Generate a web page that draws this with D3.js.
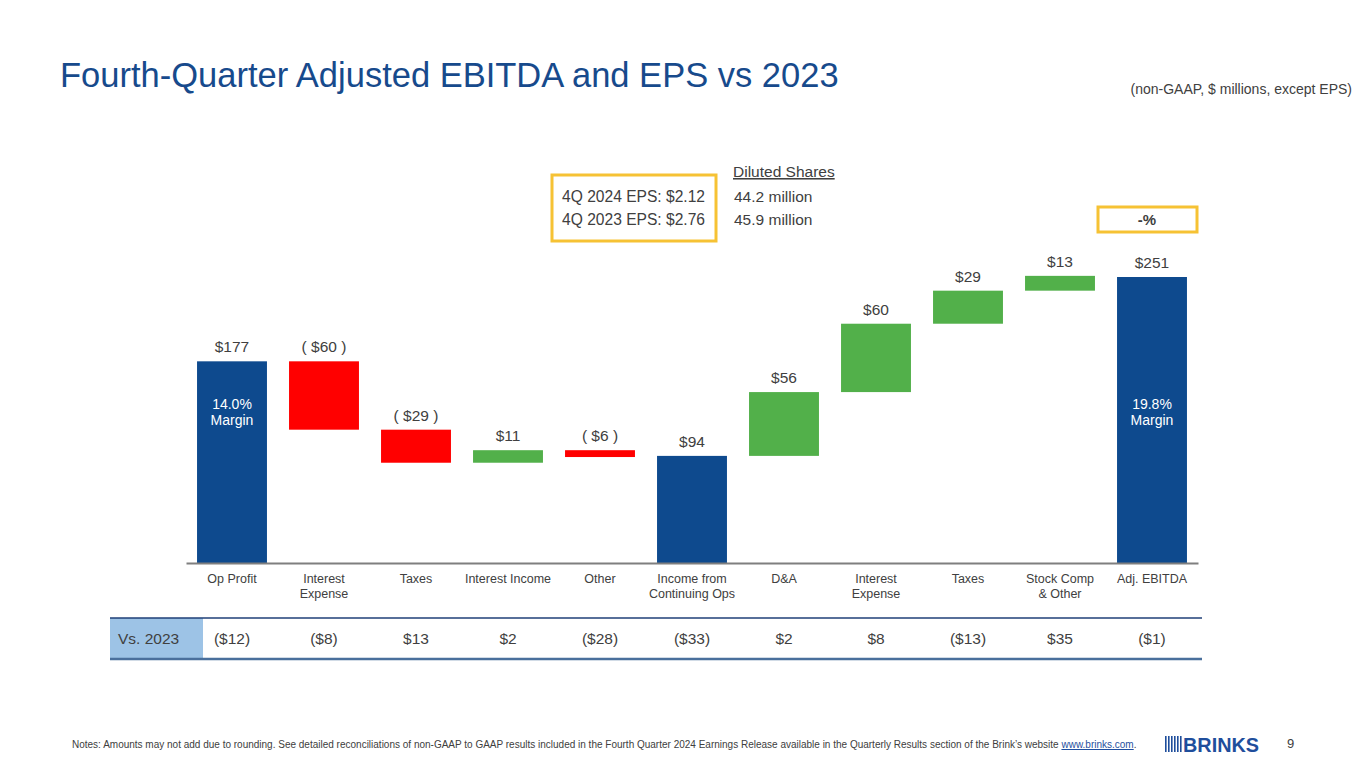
<!DOCTYPE html>
<html>
<head>
<meta charset="utf-8">
<script src="https://cdn.jsdelivr.net/npm/d3@7"></script>
<style>
  body { margin: 0; background: #fff; }
  svg { display: block; font-family: "Liberation Sans", Arial, sans-serif; }
</style>
</head>
<body>
<svg width="1365" height="768"></svg>
<script>
// chart data
const categories = ['Op Profit', 'Interest\nExpense', 'Taxes', 'Interest Income', 'Other',
  'Income from\nContinuing Ops', 'D&A', 'Interest\nExpense', 'Taxes', 'Stock Comp\n& Other', 'Adj. EBITDA'];
const values = [177, -60, -29, 11, -6, 94, 56, 60, 29, 13, 251];
const kinds = ['total', 'step', 'step', 'step', 'step', 'total', 'step', 'step', 'step', 'step', 'total'];
const valueLabels = ['$177', '( $60 )', '( $29 )', '$11', '( $6 )', '$94', '$56', '$60', '$29', '$13', '$251'];
const margins = ['14.0%', '', '', '', '', '', '', '', '', '', '19.8%'];
const vs2023 = ['($12)', '($8)', '$13', '$2', '($28)', '($33)', '$2', '$8', '($13)', '$35', '($1)'];
const epsLines = ['4Q 2024 EPS: $2.12', '4Q 2023 EPS: $2.76'];
const shareLines = ['44.2 million', '45.9 million'];

const BLUE = '#0e4a8e', RED = '#ff0000', GREEN = '#52b04a', GRAY = '#404040', YELLOW = '#f6c234';

const svg = d3.select('svg');

// running totals for waterfall
let run = 0;
const bars = values.map((v, i) => {
  let y0, y1;
  if (kinds[i] === 'total') { y0 = 0; y1 = v; run = v; }
  else { y0 = run; y1 = run + v; run = y1; }
  return { i, v, y0, y1, kind: kinds[i] };
});

const x = d3.scaleBand().domain(d3.range(categories.length)).range([186, 1198]).paddingInner(0.24).paddingOuter(0.12);
const y = d3.scaleLinear().domain([0, 251]).range([563, 277]);

// title
svg.append('text').attr('x', 60).attr('y', 87)
  .attr('fill', '#174a8c').attr('font-size', 34.5).text('Fourth-Quarter Adjusted EBITDA and EPS vs 2023');
svg.append('text').attr('x', 1352).attr('y', 94).attr('text-anchor', 'end')
  .attr('fill', GRAY).attr('font-size', 14).text('(non-GAAP, $ millions, except EPS)');

// bars
svg.selectAll('rect.bar').data(bars).enter().append('rect')
  .attr('class', 'bar')
  .attr('x', d => x(d.i))
  .attr('width', x.bandwidth())
  .attr('y', d => y(Math.max(d.y0, d.y1)))
  .attr('height', d => Math.abs(y(d.y0) - y(d.y1)))
  .attr('fill', d => d.kind === 'total' ? BLUE : (d.v < 0 ? RED : GREEN));

// value labels
svg.selectAll('text.val').data(bars).enter().append('text')
  .attr('class', 'val')
  .attr('x', d => x(d.i) + x.bandwidth() / 2)
  .attr('y', d => y(Math.max(d.y0, d.y1)) - 9)
  .attr('text-anchor', 'middle').attr('fill', GRAY).attr('font-size', 15.5)
  .text(d => valueLabels[d.i]);

// margin labels
const mg = svg.selectAll('text.margin').data(bars.filter(d => margins[d.i])).enter().append('text')
  .attr('class', 'margin')
  .attr('text-anchor', 'middle').attr('fill', '#fff').attr('font-size', 14);
mg.append('tspan').attr('x', d => x(d.i) + x.bandwidth() / 2).attr('y', 409).text(d => margins[d.i]);
mg.append('tspan').attr('x', d => x(d.i) + x.bandwidth() / 2).attr('dy', 16).text('Margin');

// axis
const axis = svg.append('g').attr('transform', 'translate(0,563)')
  .call(d3.axisBottom(x).tickSize(0).tickFormat(() => ''));
axis.select('.domain').attr('stroke', '#7f7f7f').attr('stroke-width', 2);

const cat = svg.selectAll('text.cat').data(categories).enter().append('text')
  .attr('class', 'cat').attr('text-anchor', 'middle').attr('fill', GRAY).attr('font-size', 12.5);
cat.each(function (c, i) {
  c.split('\n').forEach((line, k) => {
    d3.select(this).append('tspan')
      .attr('x', x(i) + x.bandwidth() / 2).attr('y', 583 + k * 15).text(line);
  });
});

// Vs. 2023 row
svg.append('rect').attr('x', 110).attr('y', 618).attr('width', 93).attr('height', 41).attr('fill', '#9dc3e6');
svg.append('line').attr('x1', 110).attr('x2', 1202).attr('y1', 618).attr('y2', 618)
  .attr('stroke', '#1f3f77').attr('stroke-width', 1.5);
svg.append('line').attr('x1', 110).attr('x2', 1202).attr('y1', 659).attr('y2', 659)
  .attr('stroke', '#4a6f9c').attr('stroke-width', 2.5);
svg.append('text').attr('x', 118).attr('y', 644).attr('fill', GRAY).attr('font-size', 15.5).text('Vs. 2023');
svg.selectAll('text.vs').data(vs2023).enter().append('text')
  .attr('class', 'vs')
  .attr('x', (d, i) => x(i) + x.bandwidth() / 2)
  .attr('y', 644).attr('text-anchor', 'middle').attr('fill', GRAY).attr('font-size', 15.5)
  .text(d => d);

// EPS box
svg.append('rect').attr('x', 552).attr('y', 175).attr('width', 164).attr('height', 66)
  .attr('fill', 'none').attr('stroke', YELLOW).attr('stroke-width', 3);
epsLines.forEach((t, k) => {
  svg.append('text').attr('x', 562).attr('y', 202 + k * 23).attr('fill', GRAY).attr('font-size', 15.6).text(t);
});
svg.append('text').attr('x', 733).attr('y', 177).attr('fill', GRAY).attr('font-size', 15.5)
  .attr('text-decoration', 'underline').text('Diluted Shares');
shareLines.forEach((t, k) => {
  svg.append('text').attr('x', 734).attr('y', 202 + k * 23).attr('fill', GRAY).attr('font-size', 15.5).text(t);
});

// -% box
svg.append('rect').attr('x', 1098).attr('y', 207).attr('width', 99).attr('height', 25)
  .attr('fill', 'none').attr('stroke', YELLOW).attr('stroke-width', 3);
svg.append('text').attr('x', 1147).attr('y', 225).attr('text-anchor', 'middle')
  .attr('fill', GRAY).attr('font-size', 15).attr('font-weight', 'bold').text('-%');

// footer
const note = svg.append('text').attr('x', 72).attr('y', 748).attr('fill', GRAY).attr('font-size', 10);
note.append('tspan').text('Notes: Amounts may not add due to rounding. See detailed reconciliations of non-GAAP to GAAP results included in the Fourth Quarter 2024 Earnings Release available in the Quarterly Results section of the Brink\u2019s website ');
note.append('tspan').attr('fill', '#1f4fa0').attr('text-decoration', 'underline').text('www.brinks.com');
note.append('tspan').text('.');
svg.append('text').attr('x', 1287).attr('y', 748).attr('fill', GRAY).attr('font-size', 13).text('9');

// logo
const logo = svg.append('g').attr('transform', 'translate(1165,736)');
d3.range(6).forEach(k => {
  logo.append('rect').attr('x', k * 3).attr('y', 0).attr('width', 1.6).attr('height', 16).attr('fill', '#1f4e9c');
});
logo.append('text').attr('x', 18).attr('y', 16).attr('fill', '#1f4e9c')
  .attr('font-size', 21).attr('font-weight', 'bold').attr('textLength', 76).attr('lengthAdjust', 'spacingAndGlyphs')
  .text('BRINKS');
</script>
</body>
</html>
